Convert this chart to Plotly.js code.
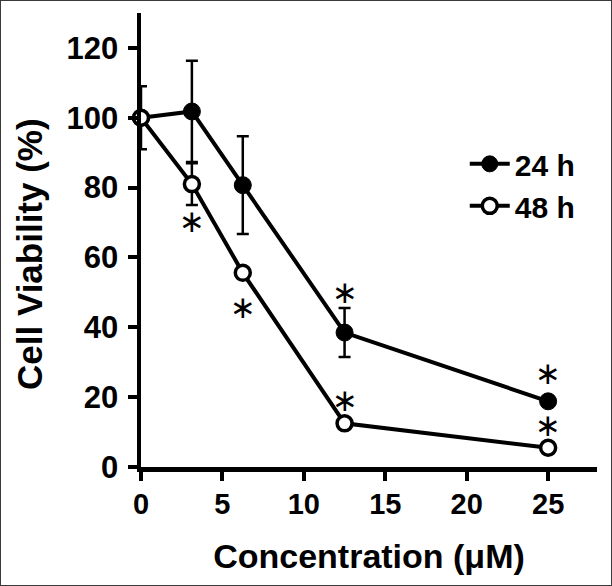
<!DOCTYPE html>
<html>
<head>
<meta charset="utf-8">
<script src="https://cdn.plot.ly/plotly-3.0.1.min.js"></script>
<style>
  html, body { margin: 0; padding: 0; background: #fff; }
  #frame { width: 612px; height: 586px; box-sizing: border-box; border: 1px solid #3a3a3a; overflow: hidden; }
  #chart { width: 610px; height: 584px; }
</style>
</head>
<body>
<div id="frame"><div id="chart"></div></div>
<script>
// ---- data ----
const concentration = [0, 3.125, 6.25, 12.5, 25];
const viability24 = [100, 101.8, 80.7, 38.5, 18.8];
const error24 = [9, 14.5, 14, 7, 0];
const viability48 = [100, 81, 55.6, 12.5, 5.5];
const error48 = [0, 6, 0, 0, 0];
const seriesNames = ['24 h', '48 h'];
const xTicks = [0, 5, 10, 15, 20, 25];
const yTicks = [0, 20, 40, 60, 80, 100, 120];
const xTitle = 'Concentration (μM)';
const yTitle = 'Cell Viability (%)';
// significance marks (true = asterisk shown)
const sig24 = [false, false, false, true, true];
const sig48 = [false, true, true, true, true];

// ---- styling ----
const FONT = 'Liberation Sans, Arial, Helvetica, sans-serif';
const star24Shift = [0, 0, 0, 41, 28];
const star48Shift = [0, -37, -34, 23, 23];

const trace24 = {
  x: concentration, y: viability24, name: seriesNames[0],
  type: 'scatter', mode: 'lines+markers', cliponaxis: false,
  line: {color: '#000', width: 4},
  marker: {symbol: 'circle', size: 17, color: '#000', line: {color: '#000', width: 1}},
  error_y: {type: 'data', array: error24, visible: true, color: '#000', thickness: 2.5, width: 6}
};
const trace48 = {
  x: concentration, y: viability48, name: seriesNames[1],
  type: 'scatter', mode: 'lines+markers', cliponaxis: false,
  line: {color: '#000', width: 4},
  marker: {symbol: 'circle', size: 15, color: '#fff', line: {color: '#000', width: 3.5}},
  error_y: {type: 'data', array: error48, visible: true, color: '#000', thickness: 2.5, width: 6}
};

const annotations = [];
concentration.forEach((c, i) => {
  if (sig24[i]) annotations.push({x: c, y: viability24[i], yshift: star24Shift[i], text: '∗', showarrow: false,
    font: {family: 'DejaVu Sans', size: 31, color: '#000'}, xanchor: 'center', yanchor: 'middle'});
  if (sig48[i]) annotations.push({x: c, y: viability48[i], yshift: star48Shift[i], text: '∗', showarrow: false,
    font: {family: 'DejaVu Sans', size: 31, color: '#000'}, xanchor: 'center', yanchor: 'middle'});
});
// y-axis title (as a rotated annotation so it can sit slightly below centre, as in the reference)
annotations.push({
  xref: 'paper', yref: 'paper', x: 0, y: 0.5, xshift: -112, yshift: -14,
  xanchor: 'center', yanchor: 'middle', textangle: -90, showarrow: false,
  text: yTitle, font: {family: FONT, size: 35, weight: 'bold', color: '#000'}
});

const layout = {
  width: 610, height: 584,
  margin: {l: 140, r: 14, t: 12, b: 118},
  paper_bgcolor: '#fff', plot_bgcolor: '#fff',
  font: {family: FONT, color: '#000'},
  showlegend: true,
  legend: {
    x: 0.71, y: 0.725, xanchor: 'left', yanchor: 'top',
    font: {family: FONT, size: 30, weight: 'bold', color: '#000'},
    bgcolor: 'rgba(0,0,0,0)', borderwidth: 0, itemwidth: 40
  },
  xaxis: {
    range: [0, 28], tickvals: xTicks, ticktext: xTicks.map(String),
    showline: true, linecolor: '#000', linewidth: 4.5,
    ticks: 'outside', ticklen: 9, tickwidth: 4, tickcolor: '#000',
    showgrid: false, zeroline: false, ticklabelstandoff: -1,
    tickfont: {family: FONT, size: 29, weight: 'bold', color: '#000'},
    title: {text: xTitle, standoff: 26, font: {family: FONT, size: 34, weight: 'bold', color: '#000'}}
  },
  yaxis: {
    range: [0, 130], tickvals: yTicks, ticktext: yTicks.map(String),
    showline: true, linecolor: '#000', linewidth: 4.5,
    ticks: 'outside', ticklen: 9, tickwidth: 4, tickcolor: '#000',
    showgrid: false, zeroline: false, ticklabelstandoff: 3,
    tickfont: {family: FONT, size: 31, weight: 'bold', color: '#000'}
  },
  annotations: annotations
};

Plotly.newPlot('chart', [trace24, trace48], layout, {displayModeBar: false, staticPlot: true});
</script>
</body>
</html>
